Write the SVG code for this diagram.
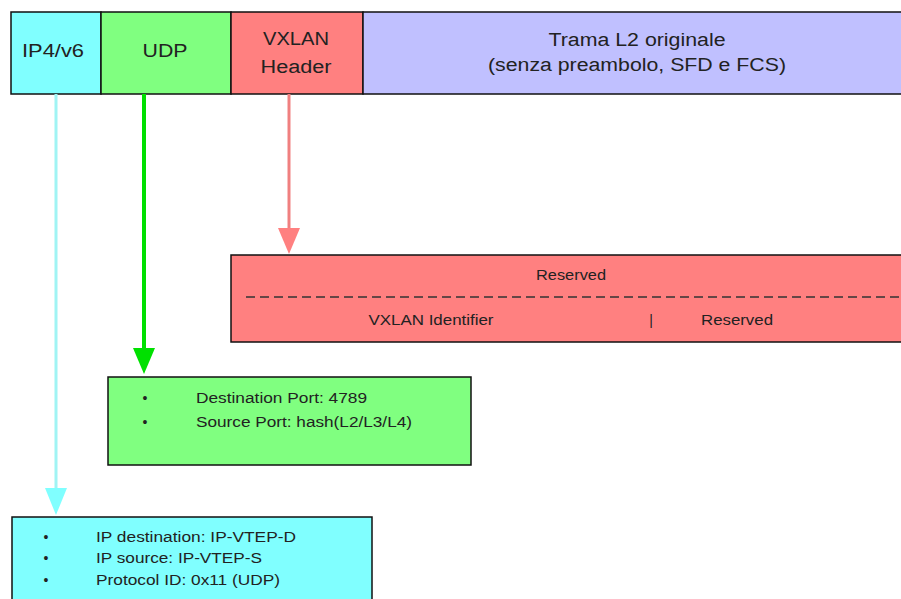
<svg xmlns="http://www.w3.org/2000/svg" width="901" height="599" viewBox="0 0 901 599">
<style>
text{font-family:"Liberation Sans",Arial,sans-serif;fill:#222}
.big{font-size:18px}
.sm{font-size:14px}
.box{stroke:#111;stroke-width:1.5}
</style>
<rect width="901" height="599" fill="#fff"/>
<g id="hdr-ip"><rect class="box" x="11" y="12" width="90" height="82" fill="#80ffff"/><text class="big" x="53" y="57" text-anchor="middle" textLength="62" lengthAdjust="spacingAndGlyphs">IP4/v6</text></g>
<g id="hdr-udp"><rect class="box" x="101" y="12" width="130" height="82" fill="#80ff80"/><text class="big" x="165" y="57" text-anchor="middle" textLength="45" lengthAdjust="spacingAndGlyphs">UDP</text></g>
<g id="hdr-vxlan"><rect class="box" x="231" y="12" width="132" height="82" fill="#ff8080"/><text class="big" x="296" y="45" text-anchor="middle" textLength="66" lengthAdjust="spacingAndGlyphs">VXLAN</text><text class="big" x="296" y="73" text-anchor="middle" textLength="71" lengthAdjust="spacingAndGlyphs">Header</text></g>
<g id="hdr-l2"><rect class="box" x="363" y="12" width="545" height="82" fill="#c0c0ff"/><text class="big" x="637" y="46" text-anchor="middle" textLength="177" lengthAdjust="spacingAndGlyphs">Trama L2 originale</text><text class="big" x="637" y="71" text-anchor="middle" textLength="298" lengthAdjust="spacingAndGlyphs">(senza preambolo, SFD e FCS)</text></g>
<g id="connectors">
<line x1="56" y1="94" x2="56" y2="490" stroke="#a0f4f4" stroke-width="3"/>
<polygon points="45,488 67,488 56,515" fill="#80ffff"/>
<line x1="144" y1="94" x2="144" y2="350" stroke="#00e000" stroke-width="4"/>
<polygon points="133,348 155,348 144,374" fill="#00e000"/>
<line x1="289" y1="94" x2="289" y2="230" stroke="#f08080" stroke-width="3"/>
<polygon points="278,228 300,228 289,254" fill="#ff8080"/>
</g>
<g id="vxlan-detail"><rect class="box" x="231" y="255" width="680" height="87" fill="#ff8080"/>
<text class="sm" x="571" y="280" text-anchor="middle" textLength="70" lengthAdjust="spacingAndGlyphs">Reserved</text>
<line x1="246" y1="297" x2="901" y2="297" stroke="#333" stroke-width="1.5" stroke-dasharray="9,5"/>
<text class="sm" x="431" y="325" text-anchor="middle" textLength="125" lengthAdjust="spacingAndGlyphs">VXLAN Identifier</text>
<text class="sm" x="651" y="325" text-anchor="middle">|</text>
<text class="sm" x="737" y="325" text-anchor="middle" textLength="72" lengthAdjust="spacingAndGlyphs">Reserved</text></g>
<g id="udp-detail"><rect class="box" x="108" y="377" width="363" height="88" fill="#80ff80"/>
<text class="sm" x="145" y="403" text-anchor="middle">•</text><text class="sm" x="196" y="403" textLength="171" lengthAdjust="spacingAndGlyphs">Destination Port: 4789</text>
<text class="sm" x="145" y="427" text-anchor="middle">•</text><text class="sm" x="196" y="427" textLength="216" lengthAdjust="spacingAndGlyphs">Source Port: hash(L2/L3/L4)</text></g>
<g id="ip-detail"><rect class="box" x="12" y="517" width="360" height="90" fill="#80ffff"/>
<text class="sm" x="46" y="542" text-anchor="middle">•</text><text class="sm" x="96" y="542" textLength="200" lengthAdjust="spacingAndGlyphs">IP destination: IP-VTEP-D</text>
<text class="sm" x="46" y="563" text-anchor="middle">•</text><text class="sm" x="96" y="563" textLength="166" lengthAdjust="spacingAndGlyphs">IP source: IP-VTEP-S</text>
<text class="sm" x="46" y="585" text-anchor="middle">•</text><text class="sm" x="96" y="585" textLength="184" lengthAdjust="spacingAndGlyphs">Protocol ID: 0x11 (UDP)</text></g>
</svg>
